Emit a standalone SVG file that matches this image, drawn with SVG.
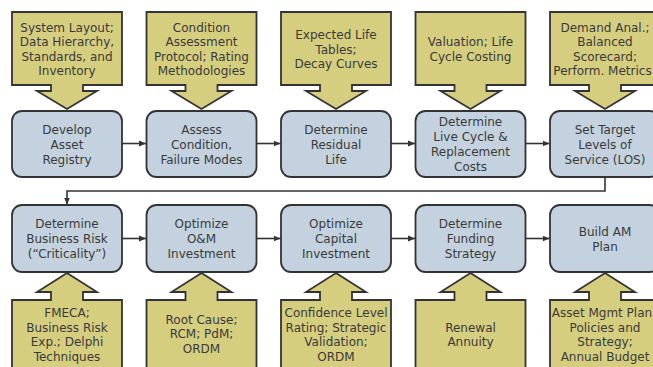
<svg xmlns="http://www.w3.org/2000/svg" width="653" height="367" viewBox="0 0 653 367">
<style>
.call{fill:#d5ce7f;stroke:#333;stroke-width:1.8;stroke-linejoin:miter}
.box{fill:#c3d2de;stroke:#333;stroke-width:1.8}
.t{font-family:"DejaVu Sans","Liberation Sans",sans-serif;font-size:12px;fill:#3a3a3a;text-anchor:middle}
.con{fill:none;stroke:#333;stroke-width:1.6}
</style>
<defs>
<marker id="ah" markerWidth="8" markerHeight="8" refX="7" refY="4" orient="auto" markerUnits="userSpaceOnUse">
<path d="M0,1 L7,4 L0,7 Z" fill="#333"/>
</marker>
</defs>
<rect width="653" height="367" fill="#fff"/>

<g id="c1"><polygon class="call" points="12,12 122,12 122,85 83,85 83,91 97,91 67,109 37,91 51,91 51,85 12,85"/>
<text class="t"><tspan x="67" y="31.75">System Layout;</tspan><tspan x="67" y="46.25">Data Hierarchy,</tspan><tspan x="67" y="60.75">Standards, and</tspan><tspan x="67" y="75.25">Inventory</tspan></text></g>
<g id="c2"><polygon class="call" points="146.5,12 256.5,12 256.5,85 217.5,85 217.5,91 231.5,91 201.5,109 171.5,91 185.5,91 185.5,85 146.5,85"/>
<text class="t"><tspan x="201.5" y="31.75">Condition</tspan><tspan x="201.5" y="46.25">Assessment</tspan><tspan x="201.5" y="60.75">Protocol; Rating</tspan><tspan x="201.5" y="75.25">Methodologies</tspan></text></g>
<g id="c3"><polygon class="call" points="281,12 391,12 391,85 352,85 352,91 366,91 336,109 306,91 320,91 320,85 281,85"/>
<text class="t"><tspan x="336" y="39">Expected Life</tspan><tspan x="336" y="53.5">Tables;</tspan><tspan x="336" y="68">Decay Curves</tspan></text></g>
<g id="c4"><polygon class="call" points="415.5,12 525.5,12 525.5,85 486.5,85 486.5,91 500.5,91 470.5,109 440.5,91 454.5,91 454.5,85 415.5,85"/>
<text class="t"><tspan x="470.5" y="46.25">Valuation; Life</tspan><tspan x="470.5" y="60.75">Cycle Costing</tspan></text></g>
<g id="c5"><polygon class="call" points="550,12 660,12 660,85 621,85 621,91 635,91 605,109 575,91 589,91 589,85 550,85"/>
<text class="t"><tspan x="605" y="31.75">Demand Anal.;</tspan><tspan x="605" y="46.25">Balanced</tspan><tspan x="605" y="60.75">Scorecard;</tspan><tspan x="602.5" y="75.25">Perform. Metrics</tspan></text></g>

<g id="n1"><rect class="box" x="12" y="111" width="110" height="66" rx="10"/>
<text class="t"><tspan x="67" y="133.5">Develop</tspan><tspan x="67" y="148.5">Asset</tspan><tspan x="67" y="163.5">Registry</tspan></text></g>
<g id="n2"><rect class="box" x="146.5" y="111" width="110" height="66" rx="10"/>
<text class="t"><tspan x="201.5" y="133.5">Assess</tspan><tspan x="201.5" y="148.5">Condition,</tspan><tspan x="201.5" y="163.5">Failure Modes</tspan></text></g>
<g id="n3"><rect class="box" x="281" y="111" width="110" height="66" rx="10"/>
<text class="t"><tspan x="336" y="133.5">Determine</tspan><tspan x="336" y="148.5">Residual</tspan><tspan x="336" y="163.5">Life</tspan></text></g>
<g id="n4"><rect class="box" x="415.5" y="111" width="110" height="66" rx="10"/>
<text class="t"><tspan x="470.5" y="126">Determine</tspan><tspan x="470.5" y="141">Live Cycle &amp;</tspan><tspan x="470.5" y="156">Replacement</tspan><tspan x="470.5" y="171">Costs</tspan></text></g>
<g id="n5"><rect class="box" x="550" y="111" width="110" height="66" rx="10"/>
<text class="t"><tspan x="605" y="133.5">Set Target</tspan><tspan x="605" y="148.5">Levels of</tspan><tspan x="605" y="163.5">Service (LOS)</tspan></text></g>

<g id="n6"><rect class="box" x="12" y="205" width="110" height="67" rx="10"/>
<text class="t"><tspan x="67" y="228">Determine</tspan><tspan x="67" y="243">Business Risk</tspan><tspan x="67" y="258">(&#8220;Criticality&#8221;)</tspan></text></g>
<g id="n7"><rect class="box" x="146.5" y="205" width="110" height="67" rx="10"/>
<text class="t"><tspan x="201.5" y="228">Optimize</tspan><tspan x="201.5" y="243">O&amp;M</tspan><tspan x="201.5" y="258">Investment</tspan></text></g>
<g id="n8"><rect class="box" x="281" y="205" width="110" height="67" rx="10"/>
<text class="t"><tspan x="336" y="228">Optimize</tspan><tspan x="336" y="243">Capital</tspan><tspan x="336" y="258">Investment</tspan></text></g>
<g id="n9"><rect class="box" x="415.5" y="205" width="110" height="67" rx="10"/>
<text class="t"><tspan x="470.5" y="228">Determine</tspan><tspan x="470.5" y="243">Funding</tspan><tspan x="470.5" y="258">Strategy</tspan></text></g>
<g id="n10"><rect class="box" x="550" y="205" width="110" height="67" rx="10"/>
<text class="t"><tspan x="605" y="235.5">Build AM</tspan><tspan x="605" y="250.5">Plan</tspan></text></g>

<g id="c6"><polygon class="call" points="67,273 97,292 83,292 83,300 122,300 122,372 12,372 12,300 51,300 51,292 37,292"/>
<text class="t"><tspan x="67" y="317.25">FMECA;</tspan><tspan x="67" y="331.75">Business Risk</tspan><tspan x="67" y="346.25">Exp.; Delphi</tspan><tspan x="67" y="360.75">Techniques</tspan></text></g>
<g id="c7"><polygon class="call" points="201.5,273 231.5,292 217.5,292 217.5,300 256.5,300 256.5,372 146.5,372 146.5,300 185.5,300 185.5,292 171.5,292"/>
<text class="t"><tspan x="201.5" y="323.5">Root Cause;</tspan><tspan x="201.5" y="338">RCM; PdM;</tspan><tspan x="201.5" y="352.5">ORDM</tspan></text></g>
<g id="c8"><polygon class="call" points="336,273 366,292 352,292 352,300 391,300 391,372 281,372 281,300 320,300 320,292 306,292"/>
<text class="t"><tspan x="336" y="317.25">Confidence Level</tspan><tspan x="336" y="331.75">Rating; Strategic</tspan><tspan x="336" y="346.25">Validation;</tspan><tspan x="336" y="360.75">ORDM</tspan></text></g>
<g id="c9"><polygon class="call" points="470.5,273 500.5,292 486.5,292 486.5,300 525.5,300 525.5,372 415.5,372 415.5,300 454.5,300 454.5,292 440.5,292"/>
<text class="t"><tspan x="470.5" y="331.75">Renewal</tspan><tspan x="470.5" y="346.25">Annuity</tspan></text></g>
<g id="c10"><polygon class="call" points="605,273 635,292 621,292 621,300 660,300 660,372 550,372 550,300 589,300 589,292 575,292"/>
<text class="t"><tspan x="602" y="317.25">Asset Mgmt Plan</tspan><tspan x="605" y="331.75">Policies and</tspan><tspan x="605" y="346.25">Strategy;</tspan><tspan x="605" y="360.75">Annual Budget</tspan></text></g>

<g id="connectors">
<path class="con" d="M122,143.5 H146" marker-end="url(#ah)"/>
<path class="con" d="M256.5,143.5 H280.5" marker-end="url(#ah)"/>
<path class="con" d="M391,143.5 H415" marker-end="url(#ah)"/>
<path class="con" d="M525.5,143.5 H549.5" marker-end="url(#ah)"/>
<path class="con" d="M605,177 V191 H67 V204.5" marker-end="url(#ah)"/>
<path class="con" d="M122,238.5 H146" marker-end="url(#ah)"/>
<path class="con" d="M256.5,238.5 H280.5" marker-end="url(#ah)"/>
<path class="con" d="M391,238.5 H415" marker-end="url(#ah)"/>
<path class="con" d="M525.5,238.5 H549.5" marker-end="url(#ah)"/>
</g>
</svg>
